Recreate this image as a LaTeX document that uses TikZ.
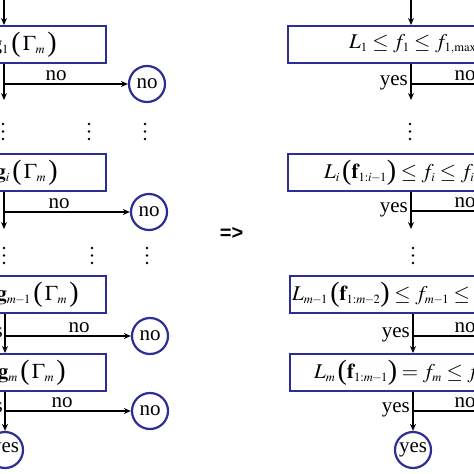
\documentclass[tikz,border=0pt]{standalone}
\usepackage{mathptmx}
\usepackage[no-math]{fontspec}
\setmainfont{Liberation Serif}
\newfontfamily\arrowfont{Liberation Sans}
\usetikzlibrary{arrows.meta}
\definecolor{boxblue}{RGB}{45,45,150}
\DeclareMathSizes{21}{21}{12.5}{9}
\newcommand{\smn}{\mkern-1mu-\mkern-1mu}
\newcommand{\lp}{\mathopen{\raisebox{-1.2pt}{\fontsize{28}{28}\selectfont(}}}
\newcommand{\rp}{\mathclose{\raisebox{-1.2pt}{\fontsize{28}{28}\selectfont)}}}
\newcommand{\mth}[1]{$#1$}
\begin{document}
\begin{tikzpicture}[x=1pt,y=-1pt, font=\fontsize{21}{25}\selectfont,
  box/.style={draw=boxblue, line width=2pt, fill=white, minimum height=37pt, inner sep=0pt},
  endc/.style={circle, draw=boxblue, line width=2.2pt, minimum size=36pt, inner sep=0pt},
  conn/.style={line width=1.7pt, -{Stealth[length=7pt,width=6pt]}},
  plain/.style={line width=1.7pt},
  lbl/.style={inner sep=0pt, anchor=base},
  ylbl/.style={inner sep=0pt, anchor=base east},
  txt/.style={inner sep=0pt},
  mtxt/.style={inner sep=0pt, font=\fontsize{21}{25}\selectfont}]
\useasboundingbox (0,0) rectangle (474,474);
\clip (0,0) rectangle (474,474);

% ---------------- left column ----------------
\node[box, minimum width=204pt] (l1) at (4,44.5) {};
\node[mtxt, anchor=east] (lt1) at (57,44.5) {\mth{\mathbf{g}_1\,\lp\,\Gamma_m\,\rp}};
\node[box, minimum width=204pt] (l2) at (4,172.5) {};
\node[mtxt, anchor=east] (lt2) at (58,172.5) {\mth{\mathbf{g}_i\,\lp\,\Gamma_m\,\rp}};
\node[box, minimum width=202pt] (l3) at (5,294.5) {};
\node[mtxt, anchor=east] (lt3) at (79,294.5) {\mth{\mathbf{g}_{m\smn1}\,\lp\,\Gamma_m\,\rp}};
\node[box, minimum width=202pt] (l4) at (5,372.5) {};
\node[mtxt, anchor=east] (lt4) at (66,372.5) {\mth{\mathbf{g}_m\,\lp\,\Gamma_m\,\rp}};

\node[endc] (ln1) at (147,84) {no};
\node[endc] (ln2) at (149,212) {no};
\node[endc] (ln3) at (150,336) {no};
\node[endc] (ln4) at (150,411) {no};
\node[endc] (ly) at (5,450) {yes};

\coordinate (ls) at (4,0);
\coordinate (le1) at (4,100);
\coordinate (le2) at (4,229);
\coordinate (lj1) at (4,84);
\coordinate (lj2) at (4,212);
\coordinate (lj3) at (5,336);
\coordinate (lj4) at (5,411);

\draw[conn] (ls) -- (l1.north);
\draw[conn] (l1.south) -- (le1);
\draw[conn] (l2.south) -- (le2);
\draw[conn] (l3.south) -- (l4.north);
\draw[conn] (l4.south) -- (ly.north);
\draw[conn] (lj1) -- (ln1.west);
\draw[conn] (lj2) -- (ln2.west);
\draw[conn] (lj3) -- (ln3.west);
\draw[conn] (lj4) -- (ln4.west);

\node[lbl] (lno1) at (56,80) {no};
\node[lbl] (lno2) at (59,208) {no};
\node[lbl] (lno3) at (79,332) {no};
\node[lbl] (lno4) at (62,407) {no};
\node[ylbl] (lyes3) at (3,337) {yes};
\node[ylbl] (lyes4) at (3,412) {yes};

% ---------------- right column ----------------
\node[box, minimum width=246pt] (r1) at (411,44.5) {};
\node[mtxt, anchor=west] (rt1) at (349,44.5) {\mth{L_1 \le f_1 \le f_{1,\max}}};
\node[box, minimum width=246pt] (r2) at (411,172.5) {};
\node[mtxt, anchor=west] (rt2) at (324,172.5) {\mth{L_i\,\lp\mathbf{f}_{1:i\smn1}\rp \le f_i \le f_{i,\max}}};
\node[box, minimum width=246pt] (r3) at (413,294.5) {};
\node[mtxt, anchor=west] (rt3) at (292,294.5) {\mth{L_{m\smn1}\,\lp\mathbf{f}_{1:m\smn2}\rp \le f_{m\smn1} \le f_{m\smn1,\max}}};
\node[box, minimum width=246pt] (r4) at (413,372.5) {};
\node[mtxt, anchor=west] (rt4) at (314,372.5) {\mth{L_m\,\lp\mathbf{f}_{1:m\smn1}\rp = f_m \le f_{m,\max}}};

\node[endc] (ry) at (413,450) {yes};

\coordinate (rs) at (411,0);
\coordinate (re1) at (411,100);
\coordinate (re2) at (411,229);
\coordinate (rj1) at (411,84);
\coordinate (rj2) at (411,211);
\coordinate (rj3) at (413,336);
\coordinate (rj4) at (413,411);
\coordinate (rk1) at (480,84);
\coordinate (rk2) at (480,211);
\coordinate (rk3) at (480,336);
\coordinate (rk4) at (480,411);

\draw[conn] (rs) -- (r1.north);
\draw[conn] (r1.south) -- (re1);
\draw[conn] (r2.south) -- (re2);
\draw[conn] (r3.south) -- (r4.north);
\draw[conn] (r4.south) -- (ry.north);
\draw[plain] (rj1) -- (rk1);
\draw[plain] (rj2) -- (rk2);
\draw[plain] (rj3) -- (rk3);
\draw[plain] (rj4) -- (rk4);

\node[ylbl] (ryes1) at (408,85) {yes};
\node[ylbl] (ryes2) at (408,212) {yes};
\node[ylbl] (ryes3) at (410,337) {yes};
\node[ylbl] (ryes4) at (410,412) {yes};
\node[lbl] (rno1) at (465,80) {no};
\node[lbl] (rno2) at (465,207) {no};
\node[lbl] (rno3) at (465,332) {no};
\node[lbl] (rno4) at (465,407) {no};

% ---------------- dots ----------------
\foreach \x in {3,89,145,410} {
  \foreach \y in {124,131.5,139} \fill (\x,\y) circle (1.4pt);
}
\foreach \x in {4,92,147,413} {
  \foreach \y in {248,255.5,263} \fill (\x,\y) circle (1.4pt);
}

% ---------------- implication ----------------
\node[txt, font=\arrowfont\bfseries\fontsize{20}{24}\selectfont] (imp) at (231.5,233) {=>};
\end{tikzpicture}
\end{document}
